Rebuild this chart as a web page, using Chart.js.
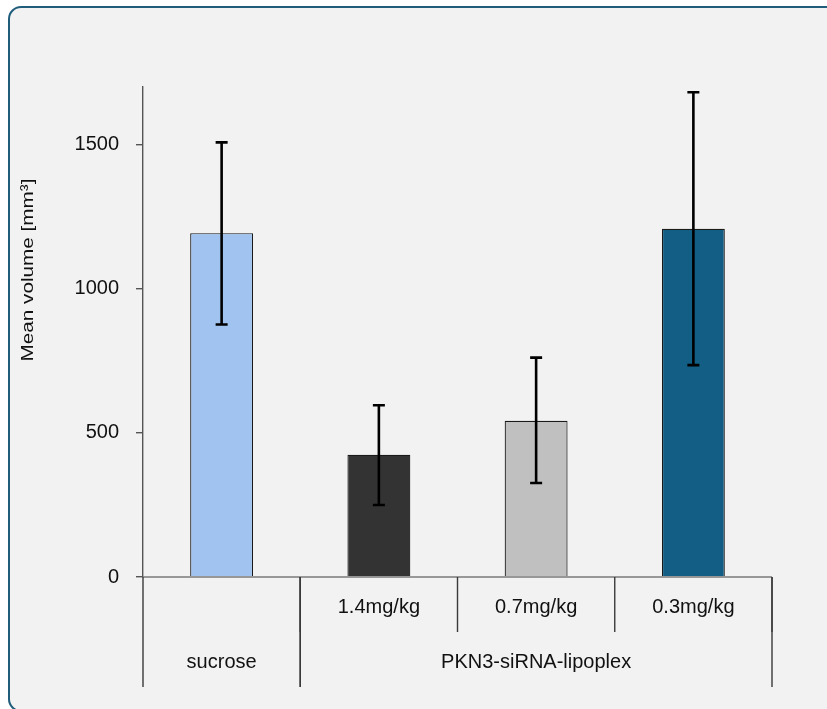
<!DOCTYPE html>
<html>
<head>
<meta charset="utf-8">
<script src="https://cdn.jsdelivr.net/npm/chart.js@4"></script>
<style>
  html, body { margin: 0; padding: 0; background: #ffffff; overflow: hidden; }
  #frame {
    position: absolute; left: 8px; top: 6px; width: 900px; height: 706px;
    box-sizing: border-box; border: 2.5px solid #1F5D7B; border-radius: 13px;
    background: #F2F2F2;
  }
  #c { position: absolute; left: 0; top: 0; }
</style>
</head>
<body>
<div id="frame"></div>
<canvas id="c" width="827" height="709"></canvas>
<script>
// ---- data ----
const categories = ['sucrose', '1.4mg/kg', '0.7mg/kg', '0.3mg/kg'];
const doseLabels = ['', '1.4mg/kg', '0.7mg/kg', '0.3mg/kg'];
const groupLabels = ['sucrose', 'PKN3-siRNA-lipoplex'];
const groupStart = [0, 1];
const groupEnd = [0, 3];
const meanVolume = [1193, 424, 542, 1208];
const errorLow = [876, 250, 326, 735];
const errorHigh = [1508, 596, 761, 1682];
const yTickValues = [0, 500, 1000, 1500];
const yMax = 1700;
const yTitle = 'Mean volume [mm³]';
const barColors = ['#A0C4EF', '#333333', '#C0C0C0', '#125E84'];

const FONT = '"Liberation Sans", Arial, sans-serif';

const extras = {
  id: 'extras',
  afterDatasetsDraw(chart) {
    const ctx = chart.ctx;
    const xs = chart.scales.x, ys = chart.scales.y;
    const area = chart.chartArea;
    const meta = chart.getDatasetMeta(0);
    ctx.save();
    // error bars
    ctx.strokeStyle = '#000';
    ctx.lineWidth = 2.6;
    meta.data.forEach((bar, i) => {
      const x = bar.x;
      const yl = ys.getPixelForValue(errorLow[i]);
      const yh = ys.getPixelForValue(errorHigh[i]);
      ctx.beginPath();
      ctx.moveTo(x, yl); ctx.lineTo(x, yh);
      ctx.moveTo(x - 6, yh); ctx.lineTo(x + 6, yh);
      ctx.moveTo(x - 6, yl); ctx.lineTo(x + 6, yl);
      ctx.stroke();
    });
    // x axis line at zero
    const y0 = ys.getPixelForValue(0);
    ctx.strokeStyle = '#7a7a7a';
    ctx.lineWidth = 1.5;
    ctx.beginPath();
    ctx.moveTo(area.left, y0); ctx.lineTo(area.right, y0);
    ctx.stroke();
    // table lines
    const half = (xs.getPixelForValue(1) - xs.getPixelForValue(0)) / 2;
    const row1 = y0 + 55, row2 = y0 + 110;
    ctx.strokeStyle = '#3a3a3a';
    ctx.lineWidth = 1.4;
    const vline = (x, yb) => { ctx.beginPath(); ctx.moveTo(x, y0); ctx.lineTo(x, yb); ctx.stroke(); };
    for (let i = 1; i < categories.length; i++) {
      vline(xs.getPixelForValue(i) - half, row1);
    }
    vline(xs.getPixelForValue(categories.length - 1) + half, row1);
    groupStart.forEach((s, g) => {
      vline(xs.getPixelForValue(s) - half, row2);
      vline(xs.getPixelForValue(groupEnd[g]) + half, row2);
    });
    // labels
    ctx.fillStyle = '#111';
    ctx.font = '20px ' + FONT;
    ctx.textAlign = 'center';
    ctx.textBaseline = 'alphabetic';
    doseLabels.forEach((t, i) => {
      if (t) ctx.fillText(t, xs.getPixelForValue(i), y0 + 36);
    });
    groupLabels.forEach((t, g) => {
      const cx = (xs.getPixelForValue(groupStart[g]) + xs.getPixelForValue(groupEnd[g])) / 2;
      ctx.fillText(t, cx, y0 + 91);
    });
    // y title (rotated)
    ctx.font = '17px ' + FONT;
    const w = ctx.measureText(yTitle).width;
    ctx.translate(33, 270);
    ctx.rotate(-Math.PI / 2);
    ctx.scale(183 / w, 1);
    ctx.textAlign = 'center';
    ctx.fillText(yTitle, 0, 0);
    ctx.restore();
  }
};

new Chart(document.getElementById('c'), {
  type: 'bar',
  data: {
    labels: categories,
    datasets: [{
      data: meanVolume,
      backgroundColor: barColors,
      borderColor: '#1a1a1a',
      borderWidth: 1.2,
      barPercentage: 0.4,
      categoryPercentage: 1.0
    }]
  },
  options: {
    responsive: false,
    animation: false,
    devicePixelRatio: 1,
    layout: { padding: { left: 0, top: 87, right: 55, bottom: 132 } },
    plugins: { legend: { display: false }, tooltip: { enabled: false }, title: { display: false } },
    scales: {
      x: { display: false },
      y: {
        min: 0, max: yMax,
        afterBuildTicks(scale) { scale.ticks = yTickValues.map(v => ({ value: v })); },
        afterFit(scale) { scale.width = 143; },
        border: { display: true, color: '#555', width: 1.4 },
        grid: { drawOnChartArea: false, drawTicks: true, tickLength: 7, color: '#555', lineWidth: 1.4 },
        ticks: { padding: 17, color: '#111', font: { family: FONT, size: 20 }, callback: v => String(v) }
      }
    }
  },
  plugins: [extras]
});
</script>
</body>
</html>
